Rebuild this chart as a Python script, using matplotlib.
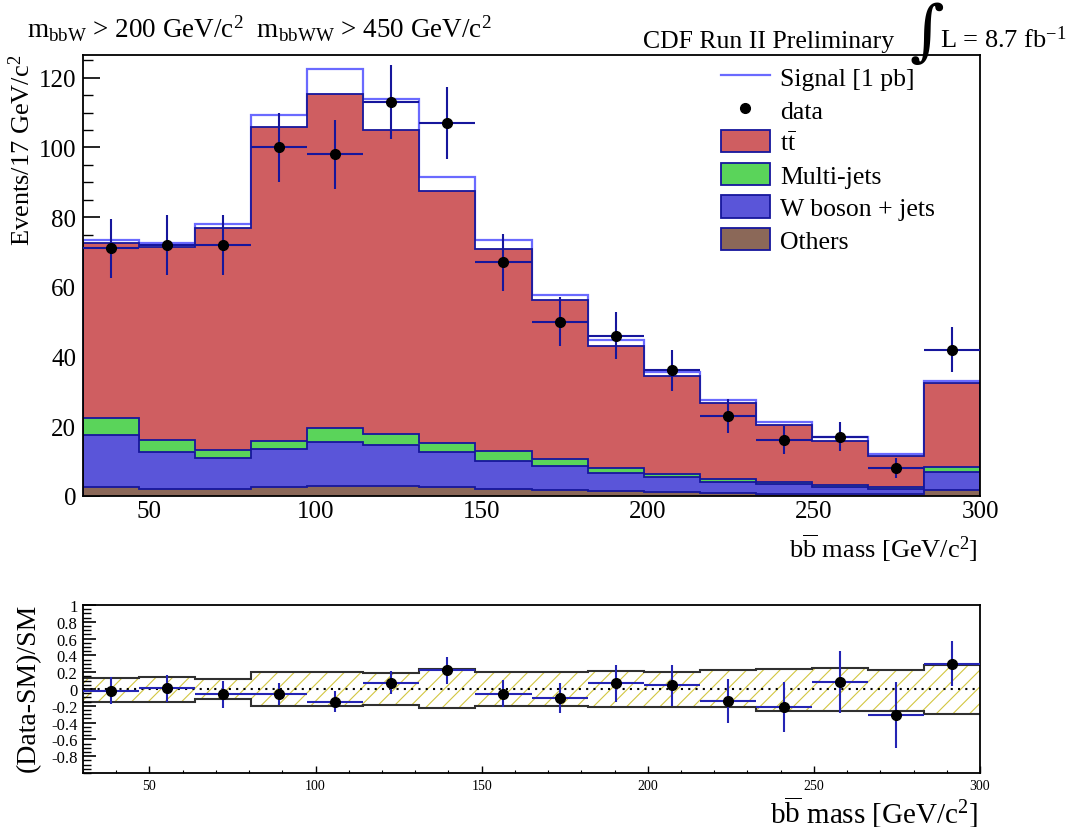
import numpy as np
import matplotlib
matplotlib.use("Agg")
import matplotlib.pyplot as plt
from matplotlib.patches import Patch
from matplotlib.lines import Line2D
from matplotlib.ticker import MultipleLocator

plt.rcParams["font.family"] = ["Liberation Serif", "DejaVu Serif"]
plt.rcParams["mathtext.fontset"] = "custom"
plt.rcParams["mathtext.rm"] = "Liberation Serif"
plt.rcParams["mathtext.it"] = "Liberation Serif:italic"
plt.rcParams["mathtext.bf"] = "Liberation Serif:bold"
plt.rcParams["hatch.linewidth"] = 0.8

# ---- binning: b-bbar invariant mass, 16 bins between 30 and 300 GeV/c^2
edges = np.linspace(30.0, 300.0, 17)

# ---- background components (events per bin)
ttbar = [50.2, 55.4, 63.6, 90.1, 95.8, 87.4, 72.5, 57.9, 45.6, 35.2, 28.3, 21.8, 16.2, 12.5, 9.1, 23.9]
multijet = [4.7, 3.6, 2.3, 2.3, 4.0, 3.0, 2.4, 3.0, 2.0, 1.3, 0.7, 0.9, 0.7, 0.5, 0.4, 1.6]
wjets = [15.1, 10.5, 8.9, 10.8, 12.5, 11.8, 10.2, 8.0, 6.9, 5.1, 4.3, 3.2, 2.8, 2.1, 1.6, 5.1]
others = [2.5, 2.0, 2.0, 2.7, 2.9, 2.9, 2.5, 2.0, 1.6, 1.5, 1.2, 0.9, 0.6, 0.6, 0.5, 1.7]

# ---- signal (1 pb), stacked on top of the SM prediction
signal = [1.0, 1.0, 1.3, 3.4, 7.3, 8.7, 4.0, 2.6, 1.6, 1.6, 1.2, 0.6, 0.8, 1.2, 0.4, 0.8]

# ---- observed data
data = [71, 72, 72, 100, 98, 113, 107, 67, 50, 46, 36, 23, 16, 17, 8, 42]

# ---- ratio panel: uncertainty on (data-SM)/SM and systematic band
ratio_err = [0.16, 0.16, 0.16, 0.13, 0.125, 0.14, 0.16, 0.165, 0.18, 0.217, 0.245, 0.265, 0.30, 0.37, 0.39, 0.27]
band_up = [0.13, 0.142, 0.118, 0.20, 0.205, 0.19, 0.233, 0.20, 0.20, 0.213, 0.205, 0.221, 0.233, 0.253, 0.225, 0.288]
band_dn = [-0.15, -0.15, -0.12, -0.205, -0.205, -0.19, -0.225, -0.205, -0.20, -0.217, -0.209, -0.217, -0.26, -0.265, -0.257, -0.296]

c_tt = "#cf5e61"
c_mj = "#5ad45a"
c_wj = "#5a55d9"
c_ot = "#8b6858"
c_line = "#16169c"
c_sig = "#6a6aff"
c_err = "#1a1aa8"

W, H = 1078, 828
fig = plt.figure(figsize=(W / 100, H / 100), dpi=100)

def px_axes(l, t, r, b):
    return fig.add_axes([l / W, 1 - b / H, (r - l) / W, (b - t) / H])

ax1 = px_axes(83, 56, 980, 497)
ax2 = px_axes(83, 606, 980, 774)

centers = 0.5 * (edges[:-1] + edges[1:])
halfw = 0.5 * np.diff(edges)

s_ot = np.array(others)
s_wj = s_ot + np.array(wjets)
s_mj = s_wj + np.array(multijet)
s_tt = s_mj + np.array(ttbar)
s_sig = s_tt + np.array(signal)
data_a = np.array(data, dtype=float)

# ---- main panel: stacked histogram
ax1.set_axisbelow(True)
ax1.stairs(s_sig, edges, fill=False, edgecolor=c_sig, lw=1.6, zorder=1)
for cum, col in [(s_tt, c_tt), (s_mj, c_mj), (s_wj, c_wj), (s_ot, c_ot)]:
    ax1.stairs(cum, edges, fill=True, facecolor=col, edgecolor=c_line, lw=1.3, zorder=1.5)

ax1.errorbar(centers, data_a, yerr=np.sqrt(data_a), xerr=halfw, fmt="o",
             color="black", ms=7, ecolor=c_line, elinewidth=1.5, capsize=0, zorder=3)

ax1.set_xlim(30, 300)
ax1.set_ylim(0, 126.5)
ax1.yaxis.set_major_locator(MultipleLocator(20))
ax1.yaxis.set_minor_locator(MultipleLocator(5))
ax1.xaxis.set_major_locator(MultipleLocator(50))
ax1.tick_params(axis="y", which="major", direction="in", length=12, width=1.2, labelsize=18, pad=5)
ax1.tick_params(axis="y", which="minor", direction="in", length=7, width=1.0)
ax1.tick_params(axis="x", which="major", direction="in", length=0, labelsize=18, pad=3)
for sp in ax1.spines.values():
    sp.set_linewidth(1.3)

fig.text(978 / W, 1 - 548 / H, r"b$\mathrm{\overline{b}}$ mass [GeV/c$^{2}$]",
         ha="right", va="center", fontsize=19)
fig.text(22 / W, 1 - 55 / H, r"Events/17 GeV/c$^{2}$", rotation=90,
         ha="center", va="top", fontsize=19)

fig.text(27 / W, 1 - 38 / H,
         r"m$_{\mathrm{bbW}}$ > 200 GeV/c$^{2}$  m$_{\mathrm{bbWW}}$ > 450 GeV/c$^{2}$",
         ha="left", va="baseline", fontsize=19.5)
fig.text(643 / W, 1 - 48 / H, "CDF Run II Preliminary", ha="left", va="baseline", fontsize=18.5)
fig.text(927 / W, 1 - 34 / H, "\u222b", ha="center", va="center", fontsize=48,
         family=["DejaVu Serif"])
fig.text(940 / W, 1 - 48 / H, r"L = 8.7 fb$^{\mathrm{-1}}$", ha="left", va="baseline", fontsize=19)

handles = [
    Line2D([], [], color=c_sig, lw=1.6),
    Line2D([], [], color="black", marker="o", ms=7, ls="none"),
    Patch(facecolor=c_tt, edgecolor=c_line, lw=1.3),
    Patch(facecolor=c_mj, edgecolor=c_line, lw=1.3),
    Patch(facecolor=c_wj, edgecolor=c_line, lw=1.3),
    Patch(facecolor=c_ot, edgecolor=c_line, lw=1.3),
]
labels = ["Signal [1 pb]", "data", r"t$\mathrm{\bar{t}}$", "Multi-jets", "W boson + jets", "Others"]
leg = ax1.legend(handles, labels, loc="upper left", bbox_to_anchor=(721 / W, 1 - 66 / H),
                 bbox_transform=fig.transFigure, frameon=False, fontsize=18.5,
                 handlelength=1.9, handleheight=0.95, handletextpad=0.4,
                 labelspacing=0.3, borderpad=0, borderaxespad=0)

# ---- ratio panel
ax2.stairs(band_up, edges, baseline=band_dn, fill=True, facecolor="none",
           edgecolor="#d2c640", hatch="//", lw=0, zorder=1)
ax2.stairs(band_up, edges, baseline=None, color="#303030", lw=1.5, zorder=1.5)
ax2.stairs(band_dn, edges, baseline=None, color="#303030", lw=1.5, zorder=1.5)
ax2.axhline(0, color="black", ls=(0, (1, 2.5)), lw=1.5, zorder=2)

ratio = (data_a - s_tt) / s_tt
ax2.errorbar(centers, ratio, yerr=ratio_err, xerr=halfw, fmt="o", color="black", ms=7,
             ecolor="#2424b4", elinewidth=1.5, capsize=0, zorder=3)

ax2.set_xlim(30, 300)
ax2.set_ylim(-1, 1)
ax2.set_yticks(np.round(np.arange(-0.8, 1.01, 0.2), 1))
ax2.set_yticklabels(["-0.8", "-0.6", "-0.4", "-0.2", "0", "0.2", "0.4", "0.6", "0.8", "1"])
ax2.yaxis.set_minor_locator(MultipleLocator(0.05))
ax2.xaxis.set_major_locator(MultipleLocator(50))
ax2.xaxis.set_minor_locator(MultipleLocator(10))
ax2.tick_params(axis="y", which="major", direction="in", length=9, width=1.2, labelsize=12, pad=4)
ax2.tick_params(axis="y", which="minor", direction="in", length=6, width=1.0)
ax2.tick_params(axis="x", which="major", direction="in", length=5, width=1.0, labelsize=10, pad=4)
ax2.tick_params(axis="x", which="minor", direction="in", length=2.5, width=0.8)
for sp in ax2.spines.values():
    sp.set_linewidth(1.3)

fig.text(978 / W, 1 - 812 / H, r"b$\mathrm{\overline{b}}$ mass [GeV/c$^{2}$]",
         ha="right", va="center", fontsize=21)
fig.text(28 / W, 1 - 604 / H, "(Data-SM)/SM", rotation=90, ha="center", va="top", fontsize=20)

fig.savefig("out.png", dpi=100)
